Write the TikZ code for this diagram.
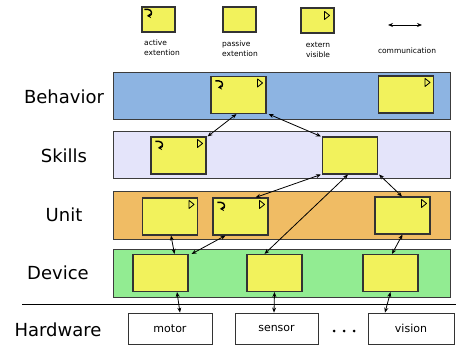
\documentclass[tikz,border=0pt]{standalone}
\usepackage{fontspec}
\setmainfont{DejaVu Sans}
\usetikzlibrary{arrows.meta}
\definecolor{behbg}{RGB}{141,180,226}
\definecolor{skibg}{RGB}{228,228,250}
\definecolor{unibg}{RGB}{240,188,100}
\definecolor{devbg}{RGB}{146,236,146}
\definecolor{boxfill}{RGB}{242,242,92}
\definecolor{edge}{RGB}{60,60,60}
\tikzset{
  band/.style={draw=edge, line width=0.9pt},
  comp/.style={draw=black!80, line width=1.1pt, fill=boxfill, minimum width=55pt, minimum height=37pt, inner sep=0pt},
  legbox/.style={comp, minimum width=33pt, minimum height=25pt},
  hw/.style={draw=black!80, line width=0.8pt, fill=white, minimum height=31pt, inner sep=0pt, font=\fontsize{11}{13}\selectfont},
  layer/.style={font=\fontsize{18}{20}\selectfont},
  legtext/.style={font=\fontsize{7.5}{10}\selectfont, inner sep=0pt},
  comm/.style={{Stealth[length=5pt,width=4pt]}-{Stealth[length=5pt,width=4pt]}, line width=0.8pt},
  extvis/.pic={\draw[line width=0.8pt, line join=round] (0,0) -- (5,4) -- (0,8) -- cycle;},
  actv/.pic={\draw[line width=1.4pt, -{Stealth[length=4pt,width=5pt]}] (0,0) -- (3.5,0) .. controls (8,0) and (8,6) .. (2.5,6.5);}
}
\begin{document}
\begin{tikzpicture}[x=1pt,y=-1pt]
\useasboundingbox (0,0) rectangle (456,345);

% legend
\node[legbox] (la) at (158.5,19.5) {};
\pic at ([shift={(3,3)}]la.north west) {actv};
\node[legbox] (lp) at (239.5,19.5) {};
\node[legbox] (le) at (317.5,20.5) {};
\pic at ([shift={(-10,4)}]le.north east) {extvis};
\coordinate (ca) at (388,25);
\coordinate (cb) at (422,25);
\draw[comm] (ca) -- (cb);
\node[legtext, align=left, anchor=west] (ta) at (144,48) {active\\extention};
\node[legtext, align=left, anchor=west] (tp) at (222,49) {passive\\extention};
\node[legtext, align=center] (te) at (318,49.5) {extern\\visible};
\node[legtext] (tc) at (407,51) {communication};

% layer bands
\draw[band, fill=behbg] (113,72) rectangle (450,119);
\draw[band, fill=skibg] (113,131) rectangle (450,178);
\draw[band, fill=unibg] (113,191) rectangle (450,239);
\draw[band, fill=devbg] (113,249) rectangle (450,297);
\draw[line width=0.9pt] (22,304) -- (456,304);

% layer names
\node[layer] (nb) at (64,97) {Behavior};
\node[layer] (ns) at (64,156) {Skills};
\node[layer] (nu) at (64,215) {Unit};
\node[layer] (nd) at (58,273) {Device};
\node[layer] (nh) at (58,330) {Hardware};

% behavior components
\node[comp] (b1) at (238.5,95) {};
\node[comp] (b2) at (406,94.5) {};
% skill components
\node[comp] (s1) at (178.5,155.5) {};
\node[comp] (s2) at (350,155.5) {};
% unit components
\node[comp] (u1) at (170,216.5) {};
\node[comp] (u2) at (240.5,216.5) {};
\node[comp] (u3) at (402.5,215.5) {};
% device components
\node[comp] (d1) at (160.5,273) {};
\node[comp] (d2) at (274.5,273) {};
\node[comp] (d3) at (390.5,273) {};

% markers: active extension
\foreach \n in {b1,s1,u2}
  \pic at ([shift={(5,5)}]\n.north west) {actv};
% markers: extern visible
\foreach \n in {b1,b2,s1,u1,u2,u3}
  \pic at ([shift={(-9,3)}]\n.north east) {extvis};

% hardware
\node[hw, minimum width=84pt] (hm) at (170,328.5) {motor};
\node[hw, minimum width=83pt] (hs) at (276.5,328.5) {sensor};
\node[hw, minimum width=86pt] (hv) at (411,328.5) {vision};
\foreach \xx in {334,344,354}
  \fill (\xx,331) circle (1.5);

% communication links
\draw[comm] ([xshift=-2pt]b1.south) -- ([xshift=1pt]s1.north east);
\draw[comm] ([xshift=2pt]b1.south east) -- ([xshift=-1pt]s2.north west);
\draw[comm] ([xshift=-1pt]s2.south west) -- ([xshift=-13pt]u2.north east);
\draw[comm] ([xshift=-2pt]s2.south) -- ([xshift=-10pt]d2.north);
\draw[comm] ([xshift=1pt]s2.south east) -- ([xshift=-0.5pt]u3.north);
\draw[comm] ([xshift=1pt]u1.south) -- ([xshift=14pt]d1.north);
\draw[comm] ([xshift=-15pt]u2.south) -- ([xshift=3pt]d1.north east);
\draw[comm] (u3.south) -- ([xshift=1.5pt]d3.north);
\draw[comm] ([xshift=16.5pt]d1.south) -- ([xshift=10pt]hm.north);
\draw[comm] (d2.south) -- ([xshift=-2.5pt]hs.north);
\draw[comm] (d3.south) -- ([xshift=-26pt]hv.north);
\end{tikzpicture}
\end{document}
